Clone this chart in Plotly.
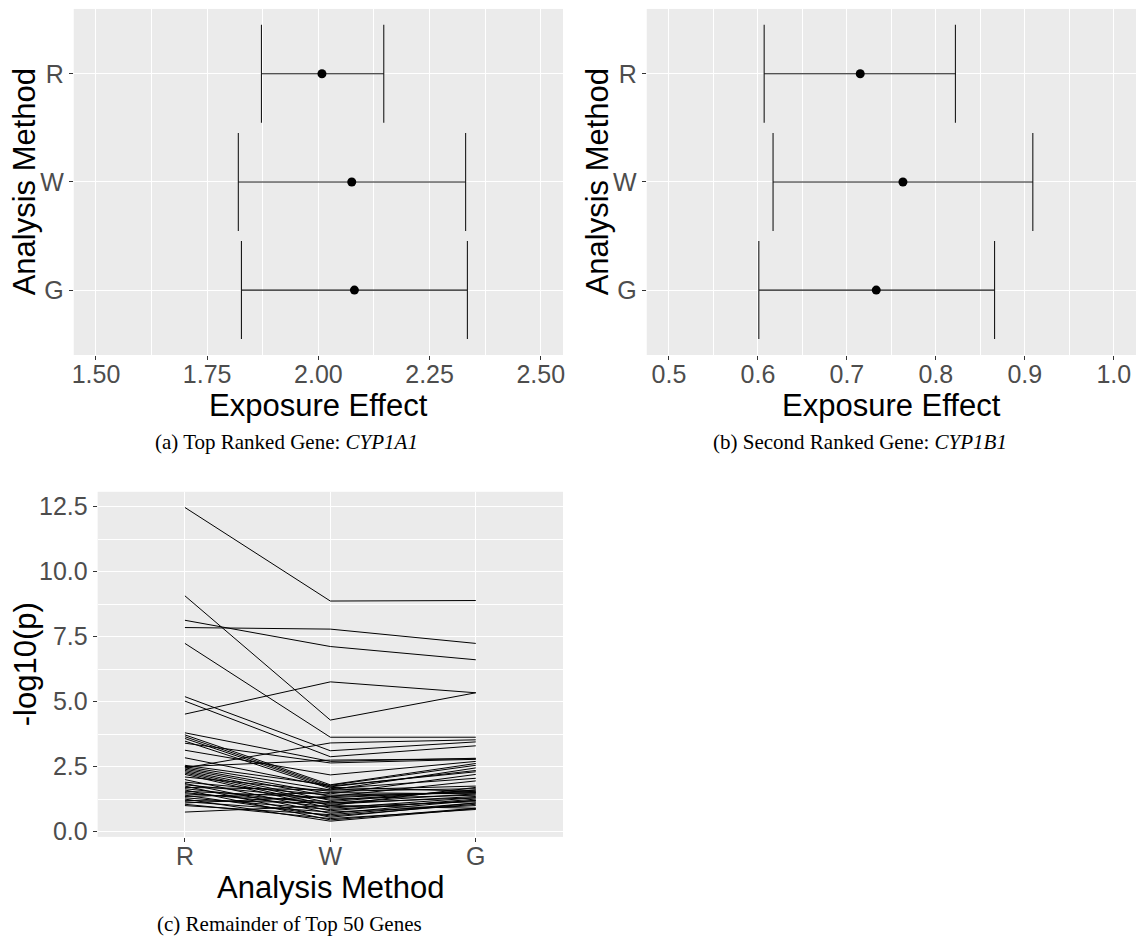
import plotly.graph_objects as go

# ---------------- data ----------------
methods = ["R", "W", "G"]

# (a) Top ranked gene CYP1A1: estimate and interval per method
cyp1a1_est = [2.008, 2.075, 2.081]
cyp1a1_lo = [1.872, 1.820, 1.827]
cyp1a1_hi = [2.147, 2.331, 2.335]

# (b) Second ranked gene CYP1B1
cyp1b1_est = [0.715, 0.763, 0.733]
cyp1b1_lo = [0.607, 0.617, 0.601]
cyp1b1_hi = [0.822, 0.909, 0.866]

# (c) -log10(p) of the remaining top-50 genes for methods R, W, G
p_R = [12.47, 9.07, 8.13, 7.85, 7.24, 4.52, 5.19, 5.02, 2.45, 3.80,
       3.72, 3.65, 3.58, 3.48, 3.40, 3.13, 2.84, 2.50, 2.55, 2.50,
       2.45, 2.40, 2.35, 2.30, 2.25, 2.20, 2.10, 2.00, 1.90, 1.85,
       1.80, 1.75, 1.70, 1.65, 1.60, 1.55, 1.50, 1.45, 1.40, 1.35,
       1.30, 1.25, 1.20, 1.15, 1.10, 1.05, 1.00, 0.75]
p_W = [8.87, 4.29, 7.12, 7.79, 3.63, 5.76, 3.11, 2.88, 3.41, 2.70,
       1.80, 1.75, 1.70, 1.65, 2.64, 2.18, 1.72, 2.75, 1.78, 1.60,
       1.45, 1.35, 1.20, 1.10, 1.00, 0.90, 1.55, 0.80, 1.40, 0.70,
       1.25, 0.55, 1.60, 1.05, 0.45, 1.30, 0.95, 1.15, 0.60, 1.50,
       0.85, 0.40, 1.10, 0.75, 1.35, 0.50, 0.65, 1.00]
p_G = [8.89, 5.34, 6.61, 7.24, 3.63, 5.34, 3.45, 3.30, 3.53, 2.82,
       2.62, 2.30, 1.55, 2.05, 2.78, 2.70, 2.35, 2.80, 2.55, 2.45,
       2.20, 1.95, 1.60, 1.45, 1.70, 1.30, 1.65, 1.25, 1.50, 1.20,
       1.40, 1.10, 1.75, 1.35, 0.90, 1.55, 1.15, 1.60, 1.05, 1.45,
       1.20, 0.88, 1.30, 1.00, 1.50, 0.85, 1.10, 0.90]

# ---------------- layout helpers ----------------
W, H = 1141, 945
def fx(p):
    return p / W
def fy(p):
    return 1 - p / H

SANS = "Liberation Sans, Arial, sans-serif"
SERIF = "Liberation Serif, Times New Roman, serif"
BG = "#EBEBEB"
TICKFONT = dict(family=SANS, size=25, color="#4D4D4D")

fig = go.Figure()

def add_err(est, lo, hi, xa, ya, cap):
    fig.add_trace(go.Scatter(
        x=est, y=methods, mode="markers",
        marker=dict(color="black", size=9),
        error_x=dict(type="data", symmetric=False,
                     array=[h - e for h, e in zip(hi, est)],
                     arrayminus=[e - l for e, l in zip(est, lo)],
                     color="#1a1a1a", thickness=1.1, width=cap),
        xaxis=xa, yaxis=ya, showlegend=False, hoverinfo="skip"))

add_err(cyp1a1_est, cyp1a1_lo, cyp1a1_hi, "x", "y", 49)
add_err(cyp1b1_est, cyp1b1_lo, cyp1b1_hi, "x2", "y2", 49)

for r, w, g in zip(p_R, p_W, p_G):
    fig.add_trace(go.Scatter(
        x=methods, y=[r, w, g], mode="lines",
        line=dict(color="black", width=1.0),
        xaxis="x3", yaxis="y3", showlegend=False, hoverinfo="skip"))

all_p = p_R + p_W + p_G
pmin, pmax = min(all_p), max(all_p)
pad = 0.05 * (pmax - pmin)

common = dict(showline=False, zeroline=False, ticks="outside", ticklen=4,
              tickwidth=1, tickcolor="#333333", tickfont=TICKFONT,
              showgrid=True, gridcolor="white", gridwidth=1.4)
minor_grid = dict(showgrid=True, gridcolor="white", gridwidth=0.7)

cat_axis = dict(type="category", range=[-0.6, 2.6])

fig.update_layout(
    width=W, height=H,
    margin=dict(l=0, r=0, t=0, b=0),
    paper_bgcolor="white", plot_bgcolor=BG,
    showlegend=False,
    xaxis=dict(domain=[fx(72), fx(563)], anchor="y", range=[1.45, 2.55],
               tickmode="linear", tick0=1.5, dtick=0.25, tickformat=".2f",
               ticklabelstandoff=-7,
               minor=dict(tick0=1.5, dtick=0.125, **minor_grid), **common),
    yaxis=dict(domain=[fy(358), fy(9)], anchor="x",
               categoryorder="array", categoryarray=["G", "W", "R"],
               **cat_axis, **common),
    xaxis2=dict(domain=[fx(647), fx(1138)], anchor="y2", range=[0.475, 1.025],
                tickmode="linear", tick0=0.5, dtick=0.1, tickformat=".1f",
                ticklabelstandoff=-7,
                minor=dict(tick0=0.5, dtick=0.05, **minor_grid), **common),
    yaxis2=dict(domain=[fy(358), fy(9)], anchor="x2",
                categoryorder="array", categoryarray=["G", "W", "R"],
                **cat_axis, **common),
    xaxis3=dict(domain=[fx(96), fx(563)], anchor="y3",
                categoryorder="array", categoryarray=methods,
                ticklabelstandoff=-7,
                **cat_axis, **common),
    yaxis3=dict(domain=[fy(844), fy(496)], anchor="x3",
                range=[pmin - pad, pmax + pad],
                tickmode="linear", tick0=0, dtick=2.5, tickformat=".1f",
                minor=dict(tick0=0, dtick=1.25, **minor_grid), **common),
)

title_font = dict(family=SANS, size=31, color="black")
cap_font = dict(family=SERIF, size=21, color="black")

ann = [
    dict(text="Exposure Effect", x=fx(317.5), y=fy(409), font=title_font),
    dict(text="Exposure Effect", x=fx(892.5), y=fy(409), font=title_font),
    dict(text="Analysis Method", x=fx(23.5), y=fy(183.5), font=title_font, textangle=-90),
    dict(text="Analysis Method", x=fx(598.5), y=fy(183.5), font=title_font, textangle=-90),
    dict(text="Analysis Method", x=fx(330), y=fy(895), font=title_font),
    dict(text="-log10(p)", x=fx(23), y=fy(670), font=title_font, textangle=-90),
    dict(text="(a) Top Ranked Gene: <i>CYP1A1</i>", x=fx(286), y=fy(446), font=cap_font),
    dict(text="(b) Second Ranked Gene: <i>CYP1B1</i>", x=fx(861), y=fy(446), font=cap_font),
    dict(text="(c) Remainder of Top 50 Genes", x=fx(289), y=fy(932), font=cap_font),
]
for a in ann:
    a.update(xref="paper", yref="paper", xanchor="center", yanchor="middle",
             showarrow=False)
fig.update_layout(annotations=ann)

fig.write_html("out.html",
               config={"displayModeBar": False},
               post_script="document.body.style.margin='0';document.body.style.overflow='hidden';")
